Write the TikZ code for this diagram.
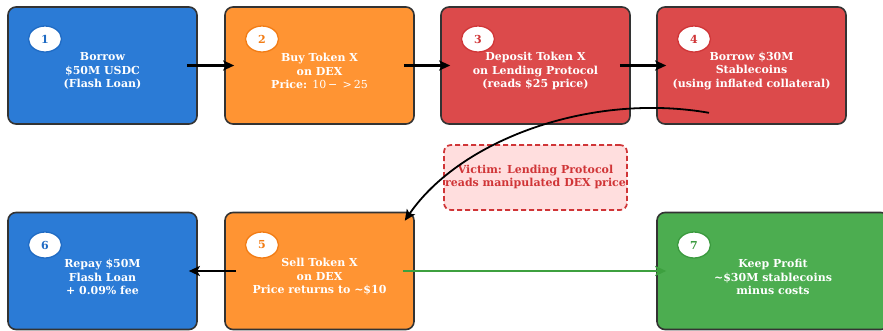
\documentclass[tikz,border=0pt]{standalone}
\usepackage{fontspec}
\setmainfont{DejaVu Serif}
\usetikzlibrary{calc,arrows.meta,shapes.geometric}
\definecolor{cblue}{HTML}{2B7BD6}
\definecolor{cblued}{HTML}{1F6BC4}
\definecolor{corange}{HTML}{FF9433}
\definecolor{coranged}{HTML}{F27C14}
\definecolor{cred}{HTML}{DC4A4B}
\definecolor{credd}{HTML}{D03537}
\definecolor{cgreen}{HTML}{4CAD50}
\definecolor{cgreend}{HTML}{3A9A3E}
\definecolor{carrowg}{HTML}{3DA03F}
\definecolor{cpink}{HTML}{FFDEDE}
\definecolor{cborder}{HTML}{333333}
\tikzset{
  x=1pt,y=-1pt,
  stepbox/.style={draw=cborder,line width=1.6pt,rounded corners=8pt,minimum width=189pt,minimum height=117pt,inner sep=0pt},
  wide/.style={minimum width=232pt},
  txt/.style={text=white,font=\fontsize{11}{13.5}\selectfont\bfseries,align=center,inner sep=0pt},
  num/.style={ellipse,draw=#1,fill=white,line width=1.3pt,minimum width=33pt,minimum height=26pt,inner sep=0pt,text=#1,font=\fontsize{11}{12}\selectfont\bfseries},
  arr/.style={-{Stealth[length=11pt,width=10pt,inset=2.5pt]},line width=2.1pt},
}
\begin{document}
\begin{tikzpicture}
\useasboundingbox (0,0) rectangle (883,330);
% top row
\node[stepbox,fill=cblue] (b1) at (102.5,65.5) {};
\node[stepbox,fill=corange] (b2) at (319.5,65.5) {};
\node[stepbox,fill=cred] (b3) at (535.5,65.5) {};
\node[stepbox,fill=cred] (b4) at (751.5,65.5) {};
% bottom row
\node[stepbox,fill=cblue] (b6) at (102.5,271) {};
\node[stepbox,fill=corange] (b5) at (319.5,271) {};
\node[stepbox,wide,fill=cgreen] (b7) at (773,271) {};
% victim box
\node[draw=credd,fill=cpink,dashed,dash pattern=on 5pt off 3pt,line width=1.7pt,rounded corners=7pt,minimum width=183pt,minimum height=65pt] (v) at (535.5,177.5) {};
\node[text=credd,font=\fontsize{11}{13.5}\selectfont\bfseries,align=center,inner sep=0pt] (vt) at (535.5,177) {Victim: Lending Protocol\\reads manipulated DEX price};
% texts
\node[txt] (t1) at (102.5,71) {Borrow\\\$50M USDC\\(Flash Loan)};
\node[txt] (t2) at (319.5,71) {Buy Token X\\on DEX\\Price: {\mdseries 10\,−\, >\,25}};
\node[txt] (t3) at (535.5,71) {Deposit Token X\\on Lending Protocol\\(reads \$25 price)};
\node[txt] (t4) at (751.5,71) {Borrow \$30M\\Stablecoins\\(using inflated collateral)};
\node[txt] (t6) at (102.5,277) {Repay \$50M\\Flash Loan\\+ 0.09\% fee};
\node[txt] (t5) at (319.5,277) {Sell Token X\\on DEX\\Price returns to \textasciitilde\$10};
\node[txt] (t7) at (773,277) {Keep Profit\\\textasciitilde\$30M stablecoins\\minus costs};
% numbers
\node[num=cblued] (n1) at (45,39) {1};
\node[num=coranged] (n2) at (262,39) {2};
\node[num=credd] (n3) at (478,39) {3};
\node[num=credd] (n4) at (694,39) {4};
\node[num=cblued] (n6) at (45,245) {6};
\node[num=coranged] (n5) at (262,245) {5};
\node[num=cgreend] (n7) at (694,245) {7};
% arrows
\draw[arr,shorten <=-11pt,shorten >=-10pt] (b1.east) -- (b2.west);
\draw[arr,shorten <=-11pt,shorten >=-10pt] (b2.east) -- (b3.west);
\draw[arr,shorten <=-11pt,shorten >=-10pt] (b3.east) -- (b4.west);
\draw[arr,shorten <=-12pt,shorten >=-9pt] (b5.west) -- (b6.east);
\draw[arr,draw=carrowg,fill=carrowg,shorten <=-12pt,shorten >=-10pt] (b5.east) -- (b7.west);
\coordinate (c1) at ($(b4.south)+(-42.5,-12)$);
\coordinate (c2) at ($(b5.north east)+(-10,9)$);
\draw[arr,line width=1.8pt] (c1) .. controls (590,92) and (460,140) .. (c2);
\end{tikzpicture}
\end{document}
